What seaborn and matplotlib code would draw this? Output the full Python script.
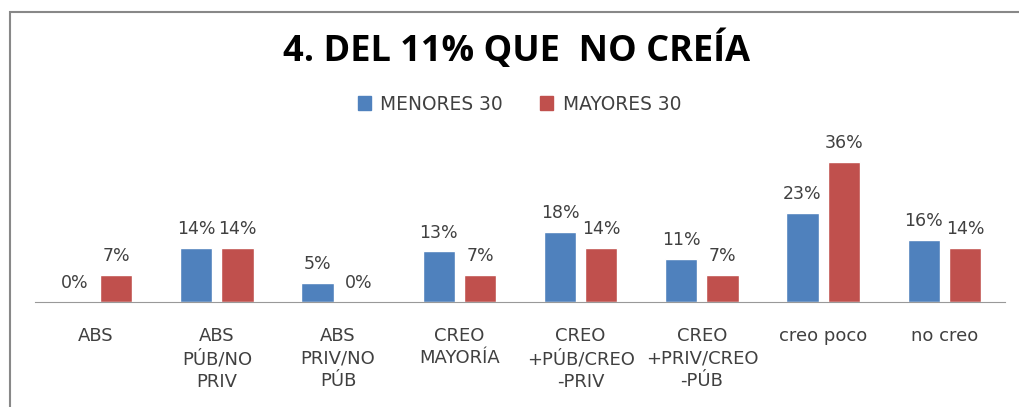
import numpy as np
import pandas as pd
import matplotlib.pyplot as plt
import seaborn as sns
from matplotlib.patches import Rectangle

categories = ["ABS", "ABS\nPÚB/NO\nPRIV", "ABS\nPRIV/NO\nPÚB", "CREO\nMAYORÍA",
              "CREO\n+PÚB/CREO\n-PRIV", "CREO\n+PRIV/CREO\n-PÚB", "creo poco", "no creo"]
menores = [0, 14, 5, 13, 18, 11, 23, 16]
mayores = [7, 14, 0, 7, 14, 7, 36, 14]
series = ["MENORES 30", "MAYORES 30"]
colors = ["#4F81BD", "#C0504D"]

df = pd.DataFrame({
    "cat": categories * 2,
    "val": menores + mayores,
    "grupo": [series[0]] * len(categories) + [series[1]] * len(categories),
})

sns.set_style("white")
plt.rcParams['font.family'] = ['DejaVu Sans']

fig = plt.figure(figsize=(10.19, 4.07), dpi=100)
ax = fig.add_axes([35 / 1019, (407 - 302) / 407, 970 / 1019, 155.6 / 407])

sns.barplot(data=df, x="cat", y="val", hue="grupo", palette=colors, order=categories,
            hue_order=series, width=0.68, gap=0.22, ax=ax, legend=False, saturation=1)

for cont in ax.containers:
    ax.bar_label(cont, labels=[f"{v:.0f}%" for v in cont.datavalues], padding=7,
                 fontsize=12.5, color="#404040")

ax.set_ylim(0, 40)
ax.set_xlim(-0.5, len(categories) - 0.5)
ax.set_xlabel("")
ax.set_ylabel("")
ax.set_yticks([])
for s in ["top", "right", "left"]:
    ax.spines[s].set_visible(False)
ax.spines["bottom"].set_color("#999999")
ax.tick_params(axis="x", length=0, pad=18, labelsize=13, labelcolor="#404040")
for lbl in ax.get_xticklabels():
    lbl.set_linespacing(1.32)
    lbl.set_verticalalignment("top")

# leyenda
handles = [plt.Rectangle((0, 0), 1, 1, color=c) for c in colors]
fig.legend(handles, series, loc="center", bbox_to_anchor=(0.51, (407 - 104) / 407), ncol=2,
           frameon=False, fontsize=13.4, handlelength=0.7, handleheight=0.7,
           columnspacing=2.0, handletextpad=0.5, labelcolor="#404040")

fig.text(0.507, (407 - 50) / 407, "4. DEL 11% QUE  NO CREÍA", ha="center", va="center",
         fontsize=26, fontweight="bold", color="black", family="Open Sans")

# marco del gráfico
fig.patches.append(Rectangle((10 / 1019, -0.2), 1.2, (407 - 12) / 407 + 0.2,
                             transform=fig.transFigure, fill=False, edgecolor="#888888",
                             linewidth=1.5))

plt.savefig("out.png", dpi=100)
